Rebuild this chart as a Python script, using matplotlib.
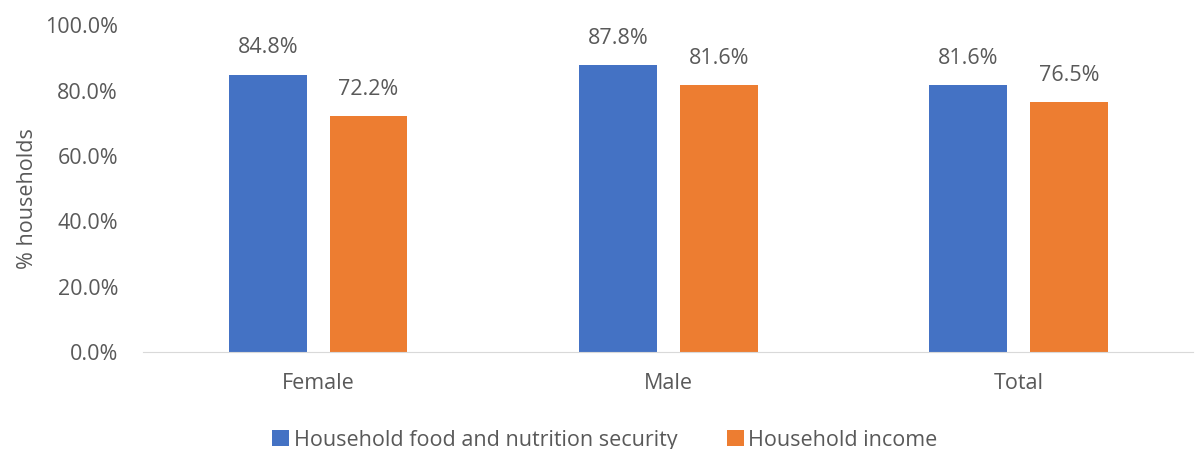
import numpy as np
import matplotlib.pyplot as plt

groups = ['Female', 'Male', 'Total']
food_security = [84.8, 87.8, 81.6]
income = [72.2, 81.6, 76.5]
series_names = ['Household food and nutrition security', 'Household income']

plt.rcParams['font.family'] = ['Open Sans', 'DejaVu Sans']
grey = '#595959'

fig = plt.figure(figsize=(11.95, 4.49), dpi=100)
ax = fig.add_axes([0.1197, 0.216, 0.879, 0.728])

x = np.arange(len(groups))
w = 0.222
off = 0.144
b1 = ax.bar(x - off, food_security, w, color='#4472C4', label=series_names[0])
b2 = ax.bar(x + off, income, w, color='#ED7D31', label=series_names[1])

# value labels above each bar
for bars, vals in ((b1, food_security), (b2, income)):
    for rect, v in zip(bars, vals):
        ax.text(rect.get_x() + rect.get_width() / 2, v + 5, f'{v:.1f}%',
                ha='center', va='bottom', fontsize=15.5, color=grey)

ax.set_xlim(-0.5, 2.5)
ax.set_ylim(0, 100)
ax.set_yticks(np.arange(0, 101, 20))
ax.set_yticklabels([f'{t:.1f}%' for t in np.arange(0, 101, 20)])
ax.set_xticks(x)
ax.set_xticklabels(groups)
ax.tick_params(axis='both', length=0, labelsize=15.5, labelcolor=grey)
ax.tick_params(axis='y', pad=18)
ax.tick_params(axis='x', pad=15)

for s in ['top', 'right', 'left']:
    ax.spines[s].set_visible(False)
ax.spines['bottom'].set_color('#D9D9D9')

ax.set_ylabel('% households', fontsize=15.5, color=grey, labelpad=7)
ax.yaxis.set_label_coords(-0.1, 0.47)

fig.legend(loc='center', bbox_to_anchor=(0.506, 0.02), ncol=2, frameon=False,
           fontsize=15.5, labelcolor=grey, handlelength=0.8, handleheight=0.8,
           handletextpad=0.2, columnspacing=2.3, borderpad=0)

fig.savefig('out.png', dpi=100)
